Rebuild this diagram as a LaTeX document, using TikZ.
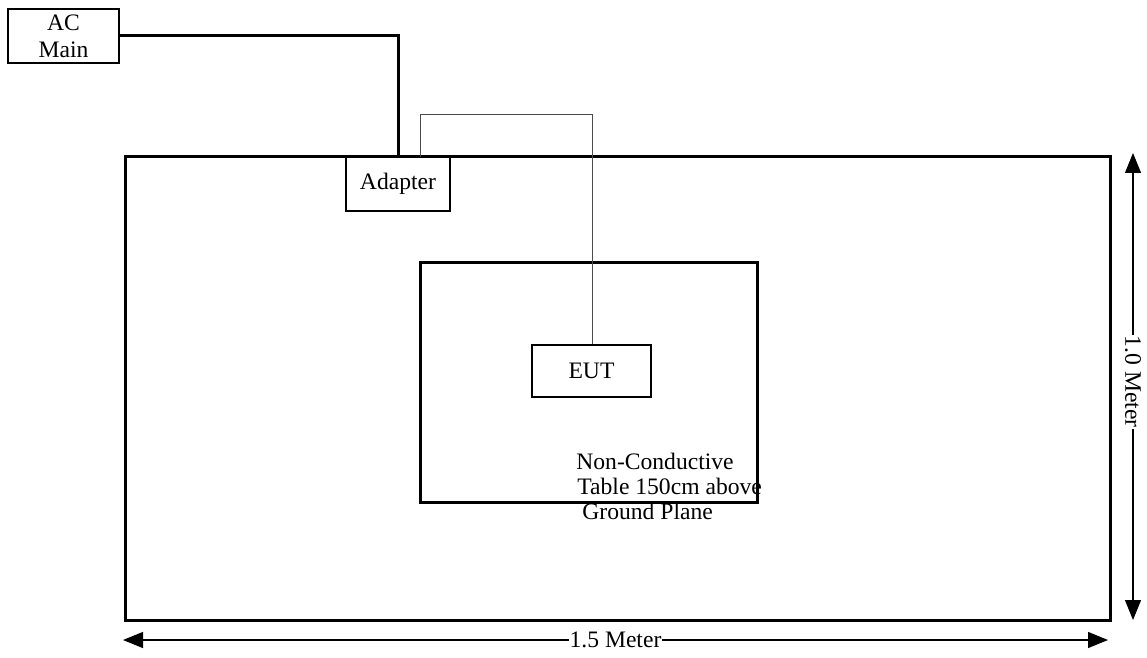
\documentclass[tikz,border=0pt]{standalone}
\usepackage{fontspec}
\setmainfont{Liberation Serif}
\usetikzlibrary{arrows.meta}

\begin{document}
\begin{tikzpicture}[x=0.5pt,y=-0.5pt,
  font=\fontsize{11.8}{12.5}\selectfont,
  box/.style={draw,line width=0.6pt,inner sep=0pt},
  heavy/.style={line width=1.5pt},
  wire/.style={line width=0.5pt,draw=black!70},
  dim/.style={line width=0.6pt,{Triangle[length=10pt,width=8pt]}-{Triangle[length=10pt,width=8pt]}},
  dimlabel/.style={fill=white,inner sep=0.5pt}
]
\useasboundingbox (0,0) rectangle (1147,658);
% ground plane and table
\draw[heavy] (125,157) rectangle (1110,620);
\draw[heavy] (420,262) rectangle (757,502);
% boxes
\node[box,minimum width=55.5pt,minimum height=27pt,align=center] (acmain) at (63.5,36) {AC\\[1pt]Main};
\node[box,minimum width=52pt,minimum height=27pt] (adapter) at (398,184) {Adapter};
\node[box,minimum width=59.5pt,minimum height=26pt] (eut) at (591.5,371) {EUT};
\coordinate (adtop) at (420,157);
% cables
\draw[heavy] (acmain.east) -| (adapter.north-|398,0);
\draw[wire] (adtop) |- (592,115) -- (eut.north-|592,0);
% note
\node[anchor=north west,align=left,inner sep=0pt] (note) at (576,453)
  {Non-Conductive\\\hspace*{0.5pt}Table 150cm above\\\hspace*{3pt}Ground Plane};
% dimensions
\coordinate (hl) at (123,640);
\coordinate (hr) at (1108,640);
\coordinate (vt) at (1133,153);
\coordinate (vb) at (1133,620);
\draw[dim] (hl) -- node[dimlabel,pos=0.5] (hlabel) {1.5 Meter} (hr);
\draw[dim] (vt) -- node[dimlabel,rotate=-90,pos=0.49] (vlabel) {1.0 Meter} (vb);
\end{tikzpicture}
\end{document}
